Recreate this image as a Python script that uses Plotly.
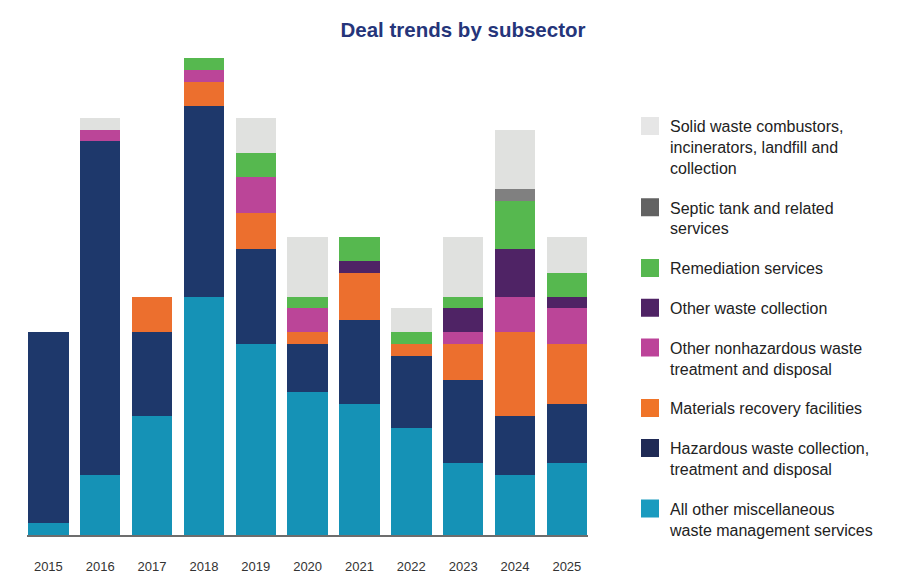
import plotly.graph_objects as go

years = ["2015", "2016", "2017", "2018", "2019", "2020",
         "2021", "2022", "2023", "2024", "2025"]

# deal counts per subsector (stack order: bottom -> top)
misc_services = [1, 5, 10, 20, 16, 12, 11, 9, 6, 5, 6]
hazardous = [16, 28, 7, 16, 8, 4, 7, 6, 7, 5, 5]
materials_recovery = [0, 0, 3, 2, 3, 1, 4, 1, 3, 7, 5]
other_nonhazardous = [0, 1, 0, 1, 3, 2, 0, 0, 1, 3, 3]
other_collection = [0, 0, 0, 0, 0, 0, 1, 0, 2, 4, 1]
remediation = [0, 0, 0, 1, 2, 1, 2, 1, 1, 4, 2]
septic = [0, 0, 0, 0, 0, 0, 0, 0, 0, 1, 0]
solid_waste = [0, 1, 0, 0, 3, 5, 0, 2, 5, 5, 3]

series = [
    ("All other miscellaneous<br>waste management services", misc_services, "#1592b6", "#1a9bbf"),
    ("Hazardous waste collection,<br>treatment and disposal", hazardous, "#1e386b", "#1f2a55"),
    ("Materials recovery facilities", materials_recovery, "#ec6f2e", "#f07428"),
    ("Other nonhazardous waste<br>treatment and disposal", other_nonhazardous, "#bb4598", "#bc4399"),
    ("Other waste collection", other_collection, "#4f2365", "#4f2365"),
    ("Remediation services", remediation, "#56b84f", "#56b84f"),
    ("Septic tank and related<br>services", septic, "#808080", "#626262"),
    ("Solid waste combustors,<br>incinerators, landfill and<br>collection", solid_waste, "#e0e1df", "#e6e6e6"),
]

# the page body has an 8px margin, so the figure is drawn 8px in and 8px down
W, H = 892, 579

fig = go.Figure()

for name, vals, color, _ in series:
    fig.add_trace(go.Bar(
        x=years,
        y=vals,
        name=name.replace("<br>", " "),
        marker=dict(color=color, line=dict(width=0)),
        showlegend=False,
    ))

# legend entries (bigger square swatches than the bar default)
for i, (name, vals, _, swatch) in enumerate(reversed(series)):
    fig.add_trace(go.Scatter(
        x=[None], y=[None],
        mode="markers",
        name=name,
        legendgroup="g%d" % i,
        marker=dict(symbol="square", size=16, color=swatch,
                    line=dict(width=2, color=swatch)),
        hoverinfo="skip",
    ))

fig.update_layout(
    width=W,
    height=H,
    barmode="stack",
    bargap=0.22,
    plot_bgcolor="white",
    paper_bgcolor="white",
    margin=dict(l=19, r=312, t=50, b=52),
    font=dict(family="Liberation Sans, Arial, sans-serif", color="#222222"),
    title=dict(
        text="<b>Deal trends by subsector</b>",
        x=455 / W, xanchor="center",
        y=1 - 22 / H, yanchor="middle",
        font=dict(size=20.5, color="#25357a"),
    ),
    legend=dict(
        xref="container", yref="container",
        x=622 / W, xanchor="left",
        y=1 - 101 / H, yanchor="top",
        traceorder="grouped",
        tracegroupgap=16,
        valign="top",
        maxheight=1,
        font=dict(size=16, color="#222222"),
        bgcolor="rgba(0,0,0,0)",
    ),
    xaxis=dict(
        type="category",
        categoryorder="array",
        categoryarray=years,
        range=[-0.412, 10.408],
        showline=True,
        linecolor="#6d6d6d",
        linewidth=1.5,
        showgrid=False,
        zeroline=False,
        ticks="outside",
        ticklen=19,
        tickcolor="rgba(0,0,0,0)",
        tickfont=dict(size=13, color="#333333"),
    ),
    yaxis=dict(
        range=[0, 40],
        visible=False,
        showgrid=False,
        zeroline=False,
    ),
)

fig.write_html("out.html")
